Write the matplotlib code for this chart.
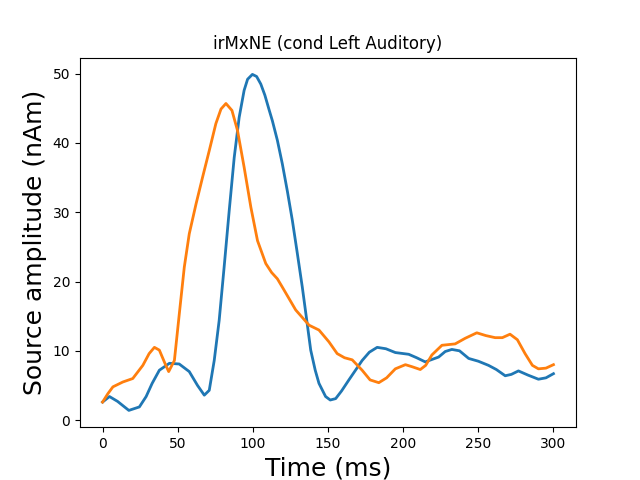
import matplotlib
matplotlib.use("Agg")
import matplotlib.pyplot as plt

# 時間 (ms) と振幅 (nAm) — 図から読み取った値
t_blue = [0, 4.6, 10, 17.5, 24.5, 29, 33, 37.8, 44.5, 51, 57.7, 63.2, 67.7,
          71.0, 74.3, 77.6, 80.9, 84.3, 87.6, 90.9, 94.2, 96.5, 99.7, 102.5,
          105.3, 108, 110.8, 113, 116.3, 119.6, 123, 126.3, 129.5, 132.9,
          135.5, 138.5, 141.5, 144, 148.4, 151.5, 155.1, 159, 163.9, 172.7,
          177.5, 182.7, 188.5, 194.8, 203.7, 209, 214.7, 223.6, 228, 232.4,
          237.5, 243.6, 250, 256.8, 262, 267.9, 272, 276.7, 283, 290, 295,
          300]
amp_blue = [2.6, 3.4, 2.7, 1.4, 1.9, 3.4, 5.3, 7.2, 8.2, 8.1, 7.0, 5.0, 3.6,
            4.3, 8.6, 14.4, 22.1, 30.3, 37.9, 43.7, 47.6, 49.2, 49.9, 49.6,
            48.5, 46.9, 44.8, 43.2, 40.4, 37.0, 33.0, 28.8, 24.2, 19.2,
            15.0, 10.1, 7.2, 5.3, 3.4, 2.9, 3.1, 4.2, 5.8, 8.6,
            9.8, 10.5, 10.3, 9.75, 9.5, 9.0, 8.4, 9.1, 9.9, 10.2,
            10.0, 8.9, 8.5, 7.9, 7.3, 6.4, 6.6, 7.1, 6.5, 5.9, 6.1,
            6.7]

t_orange = [0, 3.5, 6.9, 13.5, 20.1, 26.8, 31, 34.5, 37.8, 41.5, 44.0, 47.8,
            51.1, 54.4, 57.7, 62.2, 66.6, 71.0, 75.4, 78.8, 82.1, 86.1, 89.8,
            94.2, 98.7, 103.1, 108.6, 112.5, 116.3, 119.6, 128.5, 137.4,
            144, 150.6, 156.1, 161, 166.1, 172.7, 178,
            183.8, 189, 194.8, 201.5, 206, 211.4, 215, 219.1, 225.8, 234.6,
            241.2, 249, 255, 261.2, 266, 271.1, 276, 281.1, 286, 290, 295,
            300]
amp_orange = [2.6, 3.8, 4.8, 5.5, 6.0, 7.9, 9.6, 10.5, 10.1, 8.2, 7.0, 8.6,
              15.4, 22.1, 26.9, 31.2, 35.1, 38.9, 42.8, 44.9, 45.7, 44.7, 41.8,
              36.5, 30.7, 25.9, 22.6, 21.3, 20.4, 19.2, 15.9, 13.7,
              13.0, 11.3, 9.6, 9.0, 8.7, 7.2, 5.8,
              5.4, 6.1, 7.4, 8.0, 7.7, 7.3, 7.9, 9.4, 10.8, 11.0,
              11.8, 12.6, 12.2, 11.9, 11.9, 12.4, 11.6, 9.6, 7.9, 7.4, 7.5,
              8.0]

fig, ax = plt.subplots(figsize=(6.4, 4.8), dpi=100)
ax.plot(t_blue, amp_blue, color='#1f77b4', linewidth=2)
ax.plot(t_orange, amp_orange, color='#ff7f0e', linewidth=2)

ax.set_title('irMxNE (cond Left Auditory)')
ax.set_xlabel('Time (ms)', fontsize=18)
ax.set_ylabel('Source amplitude (nAm)', fontsize=18)

fig.savefig('out.png', dpi=100)
